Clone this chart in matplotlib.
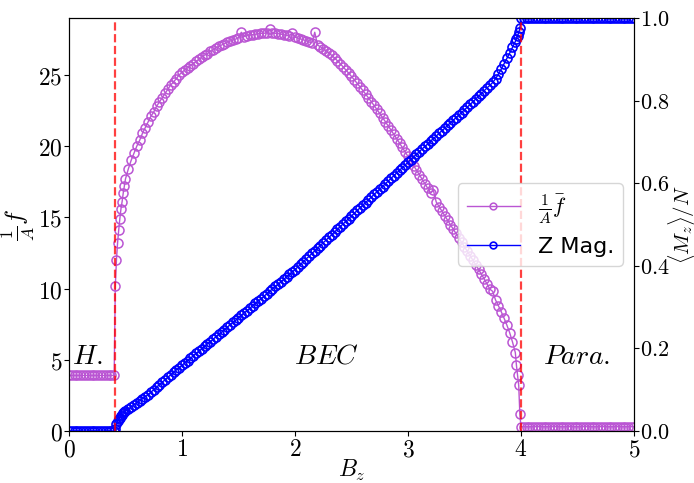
import matplotlib
matplotlib.use('Agg')
import matplotlib.pyplot as plt
import numpy as np
from matplotlib.ticker import FuncFormatter

plt.rcParams['mathtext.fontset'] = 'cm'

# field values: H phase, onset of BEC, BEC bulk (0.025 steps), approach to 4, paramagnet
bz_h = np.round(np.arange(0.0, 0.401, 0.025), 3)
bz_on = [0.41, 0.42, 0.43, 0.44, 0.45, 0.46, 0.47, 0.48, 0.49, 0.50]
bz_bec = np.round(np.arange(0.525, 3.951, 0.025), 3)
bz_end = [3.96, 3.97, 3.98, 3.99]
bz_p = np.round(np.arange(4.0, 5.001, 0.025), 3)

# (1/A) f-bar
f_h = [3.9] * len(bz_h)
f_on = [10.2, 12.0, 13.2, 14.1, 14.9, 15.6, 16.1, 16.7, 17.2, 17.7]
f_bec = [
    18.4, 19.0, 19.5, 20.0, 20.4, 20.9, 21.3, 21.7,          # 0.525 - 0.7
    22.1, 22.4, 22.8, 23.1, 23.4, 23.7, 24.0, 24.3,          # 0.725 - 0.9
    24.5, 24.75, 25.0, 25.2, 25.35, 25.5, 25.65, 25.8,       # 0.925 - 1.1
    25.95, 26.1, 26.25, 26.4, 26.5, 26.65, 26.75, 26.9,      # 1.125 - 1.3
    27.0, 27.1, 27.2, 27.3, 27.38, 27.45, 27.52, 27.6,       # 1.325 - 1.5
    28.0, 27.7, 27.75, 27.8, 27.83, 27.86, 27.9, 27.92,      # 1.525 - 1.7
    27.93, 27.95, 28.2, 27.94, 27.93, 27.9, 27.87, 27.83,    # 1.725 - 1.9
    27.78, 27.74, 27.95, 27.66, 27.6, 27.53, 27.47, 27.4,    # 1.925 - 2.1
    27.32, 27.25, 28.0, 27.1, 26.98, 26.85, 26.7, 26.55,     # 2.125 - 2.3
    26.38, 26.2, 26.0, 25.8, 25.58, 25.36, 25.13, 24.9,      # 2.325 - 2.5
    24.66, 24.42, 24.17, 23.92, 23.66, 23.4, 23.13, 22.86,   # 2.525 - 2.7
    22.58, 22.3, 22.01, 21.72, 21.43, 21.13, 20.83, 20.53,   # 2.725 - 2.9
    20.22, 19.91, 19.6, 19.28, 18.96, 18.64, 18.32, 18.0,    # 2.925 - 3.1
    17.68, 17.36, 17.04, 16.72, 16.9, 16.08, 15.76, 15.44,   # 3.125 - 3.3
    15.12, 14.8, 14.49, 14.18, 13.87, 13.56, 13.25, 12.94,   # 3.325 - 3.5
    12.63, 12.31, 11.99, 11.67, 11.34, 11.01, 10.67, 10.32,  # 3.525 - 3.7
    9.96, 9.8, 9.2, 8.8, 8.38, 7.93, 7.44, 6.9,              # 3.725 - 3.9
    6.25, 5.5,                                               # 3.925 - 3.95
]
f_end = [4.6, 3.9, 3.2, 1.2]
f_p = [0.3] * len(bz_p)

# <M_z>/N
m_h = [0.0] * len(bz_h)
m_on = [0.004, 0.016, 0.023, 0.028, 0.032, 0.036, 0.039, 0.043, 0.046, 0.049]
m_bec = [
    0.053, 0.058, 0.063, 0.068, 0.073, 0.078, 0.083, 0.088,  # 0.525 - 0.7
    0.094, 0.1, 0.106, 0.112, 0.118, 0.124, 0.13, 0.136,    # 0.725 - 0.9
    0.142, 0.148, 0.153, 0.159, 0.165, 0.17, 0.176, 0.182,   # 0.925 - 1.1
    0.188, 0.193, 0.199, 0.205, 0.211, 0.216, 0.222, 0.228,  # 1.125 - 1.3
    0.234, 0.239, 0.245, 0.251, 0.257, 0.263, 0.268, 0.274,  # 1.325 - 1.5
    0.28, 0.286, 0.291, 0.297, 0.303, 0.309, 0.315, 0.32,    # 1.525 - 1.7
    0.326, 0.332, 0.338, 0.344, 0.35, 0.355, 0.361, 0.367,   # 1.725 - 1.9
    0.373, 0.379, 0.385, 0.391, 0.397, 0.404, 0.41, 0.417,   # 1.925 - 2.1
    0.423, 0.43, 0.436, 0.443, 0.449, 0.456, 0.462, 0.469,   # 2.125 - 2.3
    0.475, 0.482, 0.488, 0.495, 0.501, 0.508, 0.514, 0.521,  # 2.325 - 2.5
    0.527, 0.534, 0.54, 0.547, 0.553, 0.56, 0.566, 0.573,    # 2.525 - 2.7
    0.579, 0.586, 0.592, 0.599, 0.605, 0.612, 0.618, 0.625,  # 2.725 - 2.9
    0.631, 0.638, 0.644, 0.651, 0.657, 0.664, 0.67, 0.676,   # 2.925 - 3.1
    0.683, 0.689, 0.695, 0.702, 0.708, 0.714, 0.721, 0.727,  # 3.125 - 3.3
    0.733, 0.74, 0.746, 0.752, 0.759, 0.765, 0.771, 0.778,   # 3.325 - 3.5
    0.784, 0.791, 0.797, 0.804, 0.811, 0.817, 0.824, 0.831,  # 3.525 - 3.7
    0.837, 0.844, 0.853, 0.864, 0.876, 0.889, 0.902, 0.915,  # 3.725 - 3.9
    0.929, 0.943,                                            # 3.925 - 3.95
]
m_end = [0.95, 0.957, 0.965, 0.975]
m_p = [1.0] * len(bz_p)

assert len(f_bec) == len(bz_bec) == len(m_bec)

bz = np.concatenate([bz_h, bz_on, bz_bec, bz_end, bz_p])
f_vals = np.concatenate([f_h, f_on, f_bec, f_end, f_p])
m_vals = np.concatenate([m_h, m_on, m_bec, m_end, m_p])

# phase boundaries
B_LOW = 0.41
B_HIGH = 4.0

fig = plt.figure(figsize=(6.94, 4.83), dpi=100)
ax = fig.add_axes([0.0994, 0.1077, 0.8141, 0.855])
ax2 = ax.twinx()

ax.plot(bz, f_vals, '-o', color='mediumorchid', mfc='none', ms=6.5, mew=1.1, lw=1.0,
        label=r'$\frac{1}{A}\bar{f}$')
ax2.plot(bz, m_vals, '-o', color='blue', mfc='none', ms=6.5, mew=1.2, lw=1.0,
         label='Z Mag.')
for b in (B_LOW, B_HIGH):
    ax2.axvline(b, color='red', ls='--', lw=1.6, alpha=0.75)

ax.set_xlim(0, 5)
ax.set_ylim(0, 29)
ax2.set_ylim(0, 1)
ax.set_xticks(range(6))
ax.set_yticks(range(0, 30, 5))
ax2.set_yticks(np.linspace(0, 1, 6))

ax.xaxis.set_major_formatter(FuncFormatter(lambda v, p: f'${v:g}$'))
ax.yaxis.set_major_formatter(FuncFormatter(lambda v, p: f'${v:g}$'))
ax2.yaxis.set_major_formatter(FuncFormatter(lambda v, p: f'${v:.1f}$'))
ax.tick_params(labelsize=17, pad=1)
ax2.tick_params(labelsize=16, pad=1)

ax.set_xlabel(r'$B_z$', fontsize=17, labelpad=-2)
ax.set_ylabel(r'$\frac{1}{A}\bar{f}$', fontsize=18, labelpad=1)
ax2.set_ylabel(r'$\langle M_z\rangle/N$', fontsize=15, labelpad=-2.5)

ax.text(0.03, 5.3, r'$H.$', fontsize=20, va='center')
ax.text(2.28, 5.3, r'$BEC$', fontsize=20, va='center', ha='center')
ax.text(4.49, 5.3, r'$Para.$', fontsize=20, va='center', ha='center')

h1, l1 = ax.get_legend_handles_labels()
h2, l2 = ax2.get_legend_handles_labels()
ax2.legend(h1 + h2, l1 + l2, loc='center right', fontsize=16, markerscale=0.75,
           handlelength=2.4)

plt.savefig('out.png', dpi=100)
plt.close()
